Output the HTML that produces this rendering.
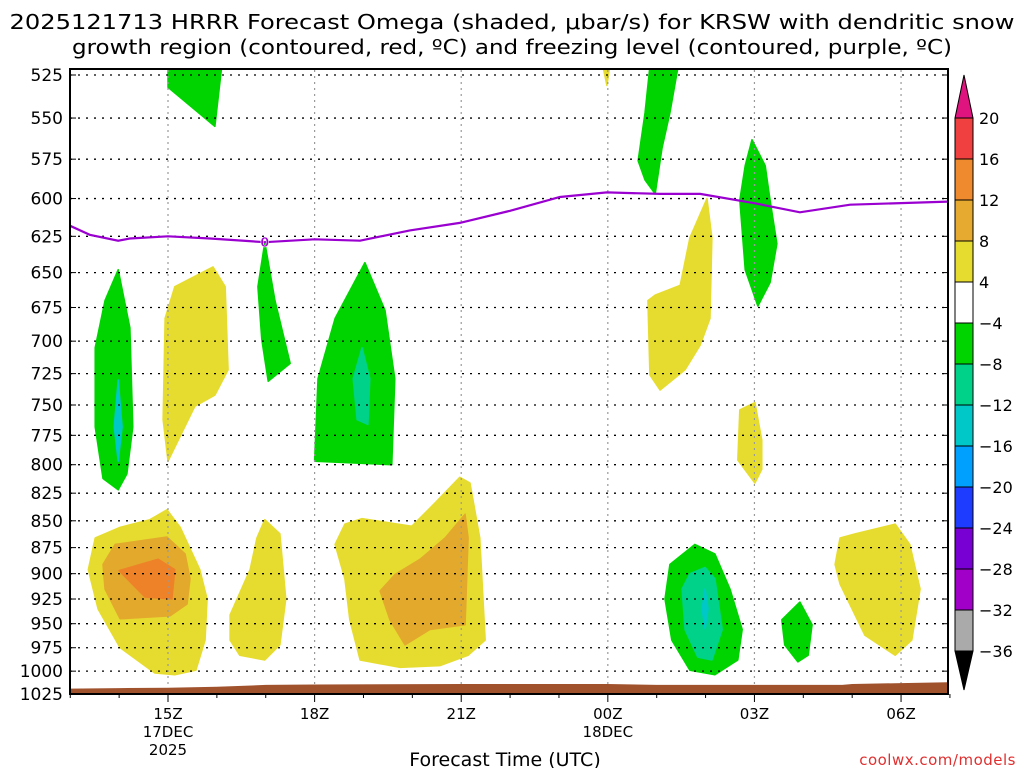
<!DOCTYPE html>
<html><head><meta charset="utf-8"><style>
html,body{margin:0;padding:0;background:#fff;width:1024px;height:768px;overflow:hidden}
svg{display:block;font-family:"DejaVu Sans","Liberation Sans",sans-serif}
</style></head><body>
<svg id="chart" width="1024" height="768" viewBox="0 0 1024 768">
<g id="title">
<text x="512" y="29" text-anchor="middle" font-size="20.5" textLength="1005" lengthAdjust="spacingAndGlyphs">2025121713 HRRR Forecast Omega (shaded, μbar/s) for KRSW with dendritic snow</text>
<text x="512" y="54" text-anchor="middle" font-size="20.5" textLength="880" lengthAdjust="spacingAndGlyphs">growth region (contoured, red, ºC) and freezing level (contoured, purple, ºC)</text>
</g>
<g id="fills"></g>
<g id="grid"></g>
<g id="ground"></g>
<g id="frz"></g>
<g id="axes"></g>
<g id="cbar"></g>
<text x="505" y="766" text-anchor="middle" font-size="19">Forecast Time (UTC)</text>
<text x="1016" y="765" text-anchor="end" font-size="15" fill="#e03030" letter-spacing="0.5">coolwx.com/models</text>
</svg>
<script>
const pressureTicks=[525,550,575,600,625,650,675,700,725,750,775,800,825,850,875,900,925,950,975,1000,1025];
const hourTicks=[15,18,21,24,27,30];
const hourLabels=["15Z","18Z","21Z","00Z","03Z","06Z"];
const hourSubLabels=["17DEC","","","18DEC","",""];
const hourSubLabels2=["2025","","","","",""];
const frzHours=[13,13.4,13.98,14.22,15,15.86,16.98,18,18.93,19.95,20.97,22,23.02,23.98,25.07,25.89,27,27.93,28.96,30.96];
const frzPress=[618,624,628,626.5,625,626.5,629,627,628,621,616,608,599,596,597,597,603,609,604,602];
const surfHours=[13,14,15,16,17,18,21,24,25,28,28.8,29,30,31];
const surfPress=[1019,1018.5,1018,1017,1015,1014.5,1014,1014,1015,1015,1015,1014,1013,1012];
const cbarLevels=["20","16","12","8","4","−4","−8","−12","−16","−20","−24","−28","−32","−36"];
const cbarColors=["#f04040","#f08a2e","#e6aa30","#e6dc30","#ffffff","#00d400","#00d28a","#00c8c8","#00a0ff","#1e3cff","#7800d2","#a000c8","#aaaaaa"];
const blobColors=["#00d400","#00c8c8","#00d400","#e6dc30","#00d400","#00d400","#00d28a","#e6dc30","#e3a92c","#ee8229","#e6dc30","#e6dc30","#e3a92c","#e6dc30","#00d400","#e6dc30","#00d400","#e6dc30","#00d400","#00d28a","#00c8c8","#00d400","#e6dc30"];
const blobHours=[
[13.98,14.22,14.28,14.16,13.98,13.67,13.51,13.51,13.71],
[13.98,14.06,13.98,13.9],
[15,16.1,15.96,15],
[15.92,16.17,16.23,15.96,15.55,15,14.9,14.94,15.14],
[16.98,17.19,17.5,17.05,16.92,16.84],
[19.03,19.44,19.64,19.58,18,18.07,18.42],
[18.97,19.13,19.09,18.87,18.79],
[14.98,15.25,15.65,15.8,15.76,15.57,15.14,14.73,14.02,13.57,13.37,13.51,14.02,14.63],
[14.98,15.35,15.45,15.39,15.04,14.02,13.71,13.67,13.92],
[14.8,15.14,15.08,14.53,14.0],
[16.98,17.29,17.41,17.29,16.98,16.47,16.27,16.27,16.68,16.82],
[18.42,18.62,18.97,19.99,20.46,20.97,21.18,21.38,21.49,21.14,20.57,19.75,18.93,18.72,18.62],
[21.08,21.14,21.08,20.36,19.85,19.54,19.34,19.64,20.16,20.67],
[23.9,24.04,23.98],
[24.86,25.44,25.27,25.11,24.97,24.76,24.62,24.76],
[26.03,26.13,26.09,25.89,25.58,25.07,24.86,24.82,24.97,25.48,25.68],
[26.95,27.22,27.32,27.46,27.32,27.07,26.81,26.7,26.81],
[27.01,27.15,27.15,27.01,26.66,26.7],
[25.78,26.19,26.5,26.75,26.66,26.19,25.68,25.31,25.17,25.27],
[25.99,26.19,26.34,26.13,25.84,25.58,25.52,25.68],
[25.99,26.05,25.99,25.93],
[27.93,28.18,28.1,27.89,27.62,27.56],
[29.06,29.88,30.18,30.39,30.22,29.88,29.26,28.75,28.65,28.75]];
const blobPress=[
[648,690,768,808,822,812,768,705,670],
[730,768,797,768],
[520,520,555,532],
[646,660,722,742,751,797,762,683,660],
[629,670,717,731,699,660],
[643,677,729,800,797,729,683],
[705,729,766,762,729],
[840,856,896,925,967,999,1004,1002,975,935,896,866,856,849],
[865,881,905,930,942,945,915,891,872],
[886,896,925,923,897],
[849,862,925,972,988,983,967,941,896,866],
[872,853,848,855,834,811,816,866,967,983,994,996,988,946,905],
[844,866,951,956,972,946,917,901,886,866],
[520,520,531],
[520,520,547,568,597,588,576,547],
[600,626,683,703,722,738,726,670,666,659,626],
[563,579,601,630,657,674,648,601,579],
[748,779,804,816,796,754],
[872,881,915,956,988,1004,999,967,925,891],
[894,905,956,988,985,956,915,900],
[915,935,955,935],
[928,951,983,990,972,946],
[862,853,872,915,967,983,962,910,891,866]];

const X0=70,X1=948,Y0=75,Y1=694;
const xS=h=>168+(h-15)*48.87;
const yS=p=>Y0+(Math.log(p)-Math.log(525))/(Math.log(1025)-Math.log(525))*(Y1-Y0);
const NS="http://www.w3.org/2000/svg";
function mk(tag,attrs,parent){const e=document.createElementNS(NS,tag);for(const k in attrs)e.setAttribute(k,attrs[k]);parent.appendChild(e);return e;}
const svg=document.getElementById('chart');
const defs=mk('defs',{},svg);
const cp=mk('clipPath',{id:'plotclip'},defs);
mk('rect',{x:X0,y:Y0-6,width:X1-X0,height:Y1-Y0+6},cp);

const fills=document.getElementById('fills');
fills.setAttribute('clip-path','url(#plotclip)');
blobColors.forEach((c,i)=>{
  const pts=blobHours[i].map((h,j)=>xS(h).toFixed(1)+','+yS(blobPress[i][j]).toFixed(1)).join(' ');
  const el=mk('polygon',{points:pts,fill:c,stroke:c,'stroke-width':1.5,'stroke-linejoin':'round'},fills);
  
  
});

const grid=document.getElementById('grid');
pressureTicks.forEach(p=>{
  const el=mk('line',{x1:X0,x2:X1,y1:yS(p),y2:yS(p),stroke:'#000','stroke-width':1.3,'stroke-dasharray':'2,6'},grid);
  
  
});
hourTicks.forEach(h=>{
  const el=mk('line',{x1:xS(h),x2:xS(h),y1:Y0-5,y2:Y1,stroke:'#999','stroke-width':1.2,'stroke-dasharray':'2,4'},grid);
  
  
});

const ground=document.getElementById('ground');
let gp='M'+X0+','+Y1;
surfHours.forEach((h,i)=>{gp+=' L'+Math.max(X0,Math.min(X1,xS(h))).toFixed(1)+','+yS(surfPress[i]).toFixed(1);});
gp+=' L'+X1+','+Y1+' Z';
const gEl=mk('path',{d:gp,fill:'#a0522d'},ground);



const frz=document.getElementById('frz');
frz.setAttribute('clip-path','url(#plotclip)');
const fl=mk('polyline',{points:frzHours.map((h,i)=>xS(h).toFixed(1)+','+yS(frzPress[i]).toFixed(1)).join(' '),fill:'none',stroke:'#9a00d0','stroke-width':2.2},frz);


const fLab=mk('text',{x:xS(16.98),y:yS(629)+5,'text-anchor':'middle','font-size':13,'font-weight':'bold',fill:'#9a00d0',stroke:'#fff','stroke-width':0.5},frz);
fLab.textContent='0';



const axes=document.getElementById('axes');
mk('rect',{x:X0,y:Y0-6,width:X1-X0,height:Y1-Y0+6,fill:'none',stroke:'#000','stroke-width':2},axes);
pressureTicks.forEach(p=>{
  const t=mk('text',{x:63,y:yS(p)+6,'text-anchor':'end','font-size':17},axes);
  t.textContent=p;
  
  
  mk('line',{x1:X0,x2:X0+6,y1:yS(p),y2:yS(p),stroke:'#000'},axes);
  mk('line',{x1:X1,x2:X1-6,y1:yS(p),y2:yS(p),stroke:'#000'},axes);
});
for(let h=13;h<=31;h++){mk('line',{x1:xS(h),x2:xS(h),y1:Y1,y2:Y1+(h%3==0?8:4),stroke:'#000'},axes);}
hourTicks.forEach((h,i)=>{
  const t=mk('text',{x:xS(h),y:719,'text-anchor':'middle','font-size':15},axes);
  t.textContent=hourLabels[i];
  
  
  if(hourSubLabels[i]){const t2=mk('text',{x:xS(h),y:737,'text-anchor':'middle','font-size':15},axes);t2.textContent=hourSubLabels[i];
    
    }
  if(hourSubLabels2[i]){const t3=mk('text',{x:xS(h),y:755,'text-anchor':'middle','font-size':15},axes);t3.textContent=hourSubLabels2[i];
    
    }
});

const cb=document.getElementById('cbar');
const CX=955,CW=18,CT=118,CS=41;
const tri=mk('polygon',{points:`${CX},${CT} ${CX+CW},${CT} ${CX+CW/2},75`,fill:'#e0147f',stroke:'#000'},cb);


cbarColors.forEach((c,i)=>{
  const r=mk('rect',{x:CX,y:CT+i*CS,width:CW,height:CS,fill:c,stroke:'#000','stroke-width':1},cb);
  
  
});
const bEnd=CT+cbarColors.length*CS;
const tri2=mk('polygon',{points:`${CX},${bEnd} ${CX+CW},${bEnd} ${CX+CW/2},690`,fill:'#000',stroke:'#000'},cb);


cbarLevels.forEach((l,i)=>{
  const t=mk('text',{x:979,y:CT+i*CS+6,'font-size':16},cb);
  t.textContent=l;
  
  
});
</script>
</body></html>
